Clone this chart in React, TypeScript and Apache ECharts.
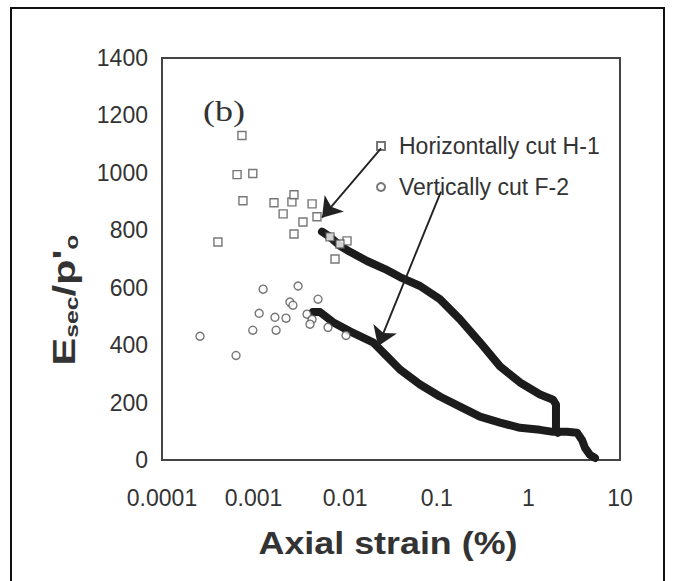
import React, { useEffect, useRef } from "react";
import * as echarts from "echarts";

// Tick labels of the logarithmic strain axis
const xTickLabels = ["0.0001", "0.001", "0.01", "0.1", "1", "10"];

// Horizontally cut H-1: scattered small-strain readings [strain %, Esec/p'o]
const h1Points: [number, number][] = [
  [0.000746, 1130], [0.00066, 994], [0.00098, 998], [0.000765, 903],
  [0.00167, 896], [0.0021, 857], [0.00262, 899], [0.00276, 924],
  [0.00435, 892], [0.00346, 829], [0.00276, 787], [0.000408, 759],
  [0.00774, 700], [0.01047, 763], [0.00492, 847], [0.00682, 777],
  [0.00877, 752],
];

// Horizontally cut H-1: continuous (dense) record
const h1Curve: [number, number][] = [
  [0.00558, 795], [0.00682, 777], [0.00877, 746], [0.01127, 725],
  [0.0173, 693], [0.0272, 665], [0.0396, 637], [0.0656, 606],
  [0.108, 560], [0.179, 490], [0.296, 410], [0.49, 326],
  [0.81, 270], [1.34, 228], [1.86, 210], [2.0, 193],
  [2.0, 105], [2.1, 95],
];

// Vertically cut F-2: scattered small-strain readings
const f2Points: [number, number][] = [
  [0.00127, 595], [0.00306, 606], [0.00249, 550], [0.00505, 560],
  [0.00115, 511], [0.00171, 497], [0.00226, 494], [0.00098, 452],
  [0.00176, 452], [0.00026, 431], [0.000643, 364], [0.00383, 508],
  [0.00435, 490], [0.00413, 473], [0.00269, 539], [0.00649, 462],
  [0.0102, 434],
];

// Vertically cut F-2: continuous (dense) record
const f2Curve: [number, number][] = [
  [0.00445, 515], [0.00531, 515], [0.00736, 480], [0.01127, 448],
  [0.0201, 410], [0.0286, 361], [0.0396, 315], [0.0656, 263],
  [0.108, 221], [0.179, 186], [0.296, 151], [0.49, 130],
  [0.81, 112], [1.34, 105], [1.86, 98], [2.64, 98],
  [3.4, 95], [3.85, 70], [4.15, 42], [4.7, 18], [5.33, 7],
];

// Pointer arrows from the legend entries to the curves (data coordinates)
const h1Arrow: [number, number][] = [[0.0246, 1085], [0.00558, 844]];
const f2Arrow: [number, number][] = [[0.111, 935], [0.0228, 396]];

const seriesNames = ["Horizontally cut H-1", "Vertically cut F-2"];

const textColor = "#333";
const sans = "Liberation Sans, Arial, sans-serif";

export default function App() {
  const ref = useRef<HTMLDivElement>(null);

  useEffect(() => {
    if (!ref.current) return;
    const chart = echarts.init(ref.current, null, { renderer: "svg" });

    const arrowLine = (pts: [number, number][]) => ({
      silent: true,
      symbol: ["none", "arrow"],
      symbolSize: 19,
      label: { show: false },
      itemStyle: { color: "#222" },
      lineStyle: { color: "#222", width: 1.9, type: "solid" },
      data: [[{ coord: pts[0] }, { coord: pts[1] }]],
    });

    chart.setOption({
      animation: false,
      backgroundColor: "#fff",
      grid: {
        left: 162,
        right: 53,
        top: 58,
        bottom: 121,
        show: true,
        borderColor: "#444",
        borderWidth: 2,
        backgroundColor: "transparent",
      },
      legend: {
        data: seriesNames,
        orient: "vertical",
        left: 371,
        top: 128,
        itemWidth: 8,
        itemHeight: 8,
        itemGap: 15,
        textStyle: {
          fontFamily: sans,
          fontSize: 23,
          color: textColor,
          lineHeight: 26,
          padding: [0, 0, 0, 9],
        },
      },
      xAxis: {
        type: "log",
        logBase: 10,
        min: 0.0001,
        max: 10,
        axisLine: { show: false },
        axisTick: { show: false },
        splitLine: { show: false },
        minorTick: { show: false },
        axisLabel: {
          margin: 26,
          fontFamily: sans,
          fontSize: 23,
          color: textColor,
          formatter: (v: number) => xTickLabels[Math.round(Math.log10(v)) + 4] ?? "",
        },
      },
      yAxis: {
        type: "value",
        min: 0,
        max: 1400,
        interval: 200,
        axisLine: { show: false },
        axisTick: { show: false },
        splitLine: { show: false },
        axisLabel: {
          margin: 14,
          fontFamily: sans,
          fontSize: 23,
          color: textColor,
          formatter: (v: number) => String(v),
        },
      },
      graphic: [
        // page frame
        {
          type: "polyline",
          shape: { points: [[11, 581], [11, 8], [664, 8], [664, 581]] },
          style: { stroke: "#111", lineWidth: 2, fill: "none" },
          silent: true,
        },
        {
          type: "text",
          x: 224,
          y: 111,
          scaleX: 1.2,
          style: {
            text: "(b)",
            font: "30px 'Liberation Serif', 'Times New Roman', serif",
            fill: textColor,
            align: "center",
            verticalAlign: "middle",
          },
        },
        {
          type: "text",
          x: 388,
          y: 543,
          scaleX: 1.12,
          style: {
            text: "Axial strain (%)",
            font: `bold 32px ${sans}`,
            fill: textColor,
            align: "center",
            verticalAlign: "middle",
          },
        },
        {
          type: "text",
          x: 64,
          y: 300,
          rotation: Math.PI / 2,
          scaleX: 1.3,
          style: {
            text: "{b|E}{s|sec}{b|/p'}{s|o}",
            fill: textColor,
            align: "center",
            verticalAlign: "middle",
            rich: {
              b: { fontFamily: sans, fontWeight: "bold", fontSize: 32, lineHeight: 34, fill: textColor },
              s: {
                fontFamily: sans,
                fontWeight: "bold",
                fontSize: 19,
                lineHeight: 13,
                verticalAlign: "bottom",
                fill: textColor,
              },
            },
          },
        },
      ],
      series: [
        {
          name: seriesNames[0],
          type: "scatter",
          symbol: "rect",
          symbolSize: 8,
          itemStyle: { color: "#fff", borderColor: "#555", borderWidth: 1.4 },
          data: h1Points,
          z: 3,
          markLine: arrowLine(h1Arrow),
        },
        {
          name: seriesNames[1],
          type: "scatter",
          symbol: "circle",
          symbolSize: 8,
          itemStyle: { color: "#fff", borderColor: "#555", borderWidth: 1.4 },
          data: f2Points,
          z: 3,
          markLine: arrowLine(f2Arrow),
        },
        {
          name: "H-1 record",
          type: "line",
          data: h1Curve,
          showSymbol: false,
          lineStyle: { color: "#1c1c1c", width: 8, cap: "round", join: "round" },
          z: 2,
        },
        {
          name: "F-2 record",
          type: "line",
          data: f2Curve,
          showSymbol: false,
          lineStyle: { color: "#1c1c1c", width: 8, cap: "round", join: "round" },
          z: 2,
        },
      ],
    });

    return () => chart.dispose();
  }, []);

  return (
    <div
      ref={ref}
      style={{ position: "fixed", left: 0, top: 0, width: 673, height: 581, background: "#fff" }}
    />
  );
}
